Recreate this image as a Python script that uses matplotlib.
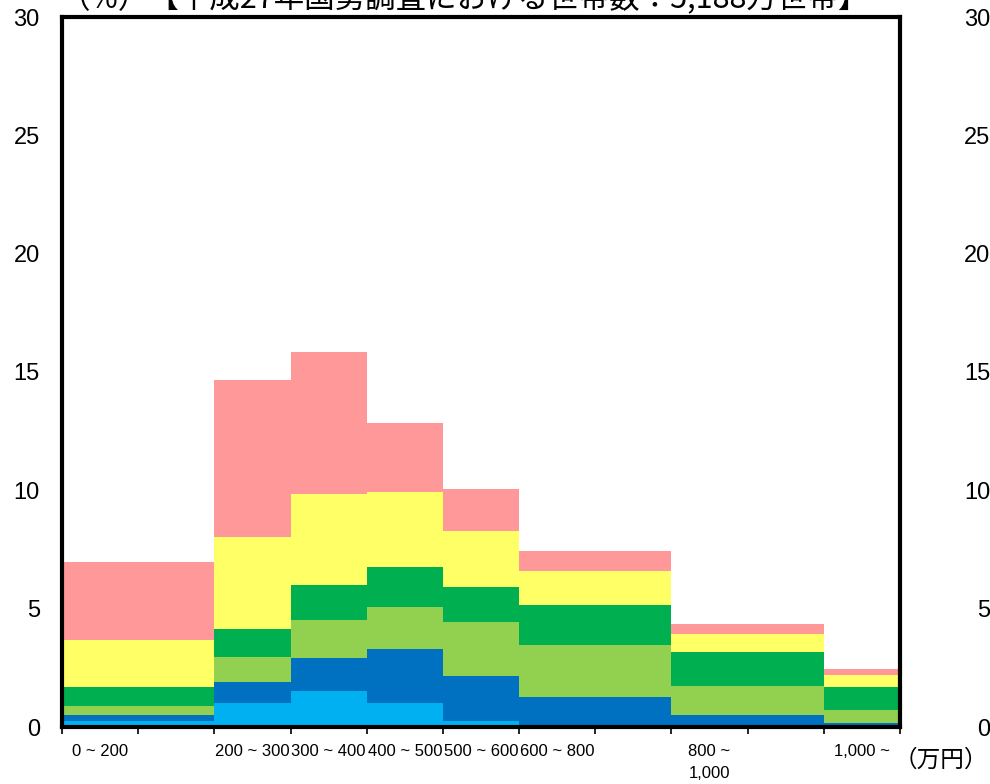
import matplotlib
matplotlib.use("Agg")
import matplotlib.pyplot as plt
import matplotlib.ticker as ticker

plt.rcParams['font.family'] = ['Liberation Sans', 'Noto Sans CJK JP']

# income bins (万円)
categories = ["0 ~ 200", "200 ~ 300", "300 ~ 400", "400 ~ 500",
              "500 ~ 600", "600 ~ 800", "800 ~\n1,000", "1,000 ~"]
bin_left = [0, 200, 300, 400, 500, 600, 800, 1000]
bin_width = [200, 100, 100, 100, 100, 200, 200, 100]

# stacked shares (%), bottom to top
series_1 = [0.25, 1.02, 1.53, 1.01, 0.25, 0.08, 0.03, 0.03]
series_2 = [0.25, 0.89, 1.37, 2.30, 1.90, 1.19, 0.48, 0.12]
series_3 = [0.39, 1.03, 1.62, 1.76, 2.29, 2.19, 1.21, 0.57]
series_4 = [0.79, 1.18, 1.46, 1.69, 1.49, 1.69, 1.45, 0.96]
series_5 = [2.00, 3.89, 3.86, 3.16, 2.37, 1.44, 0.76, 0.50]
series_6 = [3.28, 6.64, 5.99, 2.94, 1.76, 0.85, 0.42, 0.27]

y_ticks = [0, 5, 10, 15, 20, 25, 30]
title = "（%）【平成27年国勢調査における世帯数：5,188万世帯】"


def main():
    fig = plt.figure(figsize=(9.9, 7.84), dpi=100)
    ax = fig.add_axes([62 / 990, 1 - 727 / 784, (900 - 62) / 990, (727 - 17) / 784])

    layers = [series_1, series_2, series_3, series_4, series_5, series_6]
    colors = ['#00B0F0', '#0070C0', '#92D050', '#00B050', '#FFFF66', '#FF9999']
    bottom = [0.0] * len(bin_left)
    for vals, col in zip(layers, colors):
        ax.bar(bin_left, vals, width=bin_width, bottom=bottom, align='edge',
               color=col, linewidth=0)
        bottom = [b + v for b, v in zip(bottom, vals)]

    ax.set_xlim(0, 1100)
    ax.set_ylim(0, 30)
    ax.set_yticks(y_ticks)
    ax.tick_params(axis='y', length=0, pad=16, labelsize=17)
    ax.xaxis.set_major_locator(ticker.MultipleLocator(100))
    ax.tick_params(axis='x', direction='out', length=5, width=1.2, labelbottom=False)
    for s in ax.spines.values():
        s.set_linewidth(3)
        s.set_color('black')

    # category labels sit over the first 100 of each bin
    for left, lab in zip(bin_left, categories):
        ax.text(left + 50, -0.7, lab, ha='center', va='top', fontsize=12,
                linespacing=1.6, transform=ax.transData)

    ax2 = ax.twinx()
    ax2.set_ylim(0, 30)
    ax2.set_yticks(y_ticks)
    ax2.tick_params(axis='y', length=0, pad=65, labelsize=17)
    for lab in ax2.get_yticklabels():
        lab.set_horizontalalignment('right')
    for s in ax2.spines.values():
        s.set_visible(False)

    fig.text(894 / 990, 1 - 760 / 784, "（万円）", ha='left', va='center',
             fontsize=17, family=['Noto Sans CJK JP', 'DejaVu Sans'])
    fig.text(60 / 990, 1 - 8 / 784, title, ha='left', va='baseline',
             fontsize=22, family=['Noto Sans CJK JP', 'DejaVu Sans'])

    fig.savefig("out.png", dpi=100)


if __name__ == "__main__":
    main()
